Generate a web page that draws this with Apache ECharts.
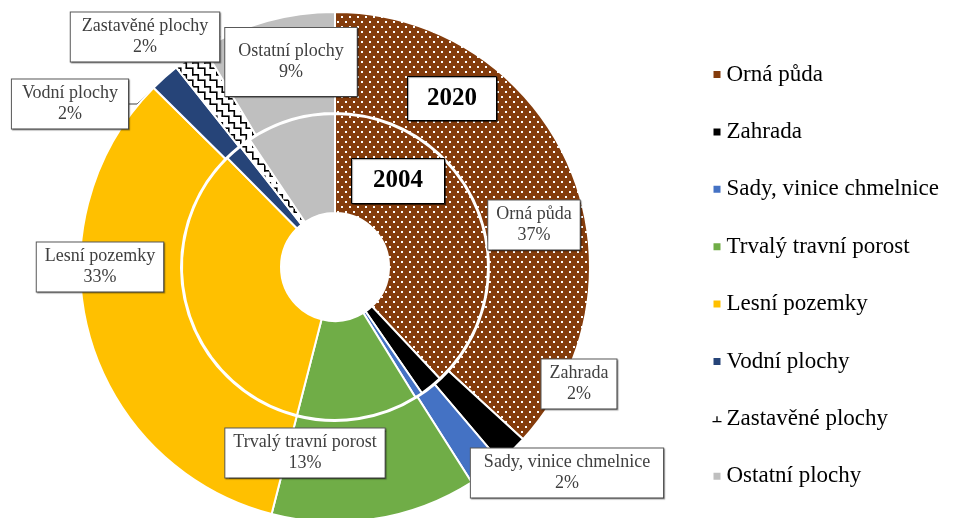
<!DOCTYPE html>
<html><head><meta charset="utf-8">
<script src="https://cdn.jsdelivr.net/npm/echarts@6/dist/echarts.min.js"></script>
<style>html,body{margin:0;padding:0;background:#fff}#c{width:954px;height:518px}</style>
</head><body><div id="c"></div>
<script>
// ---- data ----
const categories = ['Orná půda','Zahrada','Sady, vinice chmelnice','Trvalý travní porost','Lesní pozemky','Vodní plochy','Zastavěné plochy','Ostatní plochy'];
const values2004 = [38.0, 2.4, 0.8, 12.8, 33.6, 1.8, 1.2, 9.4];
const values2020 = [36.8, 2.0, 2.2, 13.0, 33.4, 1.9, 2.1, 8.6];
const ringNames = ['2004', '2020'];

// ---- styles / layout ----
function dotPattern() {
  const c = document.createElement('canvas'); c.width = 8; c.height = 10;
  const g = c.getContext('2d');
  g.fillStyle = '#843C0C'; g.fillRect(0,0,8,10);
  g.fillStyle = '#ffffff'; g.fillRect(1,1,2,2); g.fillRect(5,6,2,2);
  return {image: c, repeat: 'repeat'};
}
function brickPattern() {
  const c = document.createElement('canvas'); c.width = 12; c.height = 12;
  const g = c.getContext('2d');
  g.fillStyle = '#ffffff'; g.fillRect(0,0,12,12);
  g.fillStyle = '#000000';
  g.fillRect(0,2,7,1.6); g.fillRect(5.5,2,1.6,6.5); g.fillRect(5.5,7.4,6.5,1.6); g.fillRect(0,7.4,1.6,4.6); g.fillRect(0,0,1.6,3.6);
  return {image: c, repeat: 'repeat'};
}
const palette = [dotPattern(), '#000000', '#4472C4', '#70AD47', '#FFC000', '#264478', brickPattern(), '#BFBFBF'];
const legendColors = ['#843C0C', '#000000', '#4472C4', '#70AD47', '#FFC000', '#264478', '#000000', '#BFBFBF'];
const labelPos = [[534,225],[579,384],[567,473],[305,453],[100,267],[70,104],[145,37],[291,62]];
const labelPad = [null, null, [4,13,3,13], null, null, [4,10,3,10], [4,11,3,11], [12,13,14,13]];
const serif = '"Liberation Serif", "Times New Roman", serif';

function buildData(vals, withLabels) {
  return categories.map((n, i) => {
    const d = { name: n, value: vals[i], itemStyle: { color: palette[i] } };
    if (withLabels && labelPad[i]) d.label = { padding: labelPad[i] };
    return d;
  });
}

const chart = echarts.init(document.getElementById('c'), null, {renderer: 'canvas'});
chart.setOption({
  animation: false,
  backgroundColor: '#fff',
  title: [
    { text: ringNames[1], left: 407, top: 76, padding: [10, 20, 10, 20], backgroundColor: '#fff', borderColor: '#000', borderWidth: 1,
      shadowColor: 'rgba(0,0,0,0.4)', shadowOffsetX: 1, shadowOffsetY: 1, shadowBlur: 1,
      textStyle: { fontFamily: serif, fontSize: 25, fontWeight: 'bold', color: '#000' } },
    { text: ringNames[0], left: 351, top: 158, padding: [10, 22, 11, 22], backgroundColor: '#fff', borderColor: '#000', borderWidth: 1,
      shadowColor: 'rgba(0,0,0,0.4)', shadowOffsetX: 1, shadowOffsetY: 1, shadowBlur: 1,
      textStyle: { fontFamily: serif, fontSize: 25, fontWeight: 'bold', color: '#000' } }
  ],
  legend: {
    orient: 'vertical', left: 705, top: 58, itemWidth: 9, itemHeight: 9, itemGap: 34.4, icon: 'rect',
    selectedMode: false,
    textStyle: { fontFamily: serif, fontSize: 23, color: '#000', lineHeight: 23 },
    data: categories.map((n, i) => i === 6
      ? { name: n, icon: 'path://M0,8L10,8M5,8L5,2', itemStyle: { color: 'none', borderColor: '#000', borderWidth: 1.3 } }
      : { name: n, itemStyle: { color: legendColors[i] } })
  },
  series: [
    {
      name: ringNames[0], type: 'pie', center: [335, 267], radius: [54, 153],
      startAngle: 90, clockwise: true, silent: true,
      label: { show: false }, labelLine: { show: false },
      itemStyle: { borderColor: '#fff', borderWidth: 2 },
      data: buildData(values2004, false)
    },
    {
      name: ringNames[1], type: 'pie', center: [335, 267], radius: [154, 255],
      startAngle: 90, clockwise: true, silent: true, avoidLabelOverlap: false,
      itemStyle: { borderColor: '#fff', borderWidth: 2 },
      label: {
        show: true, position: 'outside',
        formatter: p => p.name + '\n' + Math.round(p.percent) + '%',
        fontFamily: serif, fontSize: 18, lineHeight: 21, color: '#404040', align: 'center',
        backgroundColor: '#fff', borderColor: '#595959', borderWidth: 1, padding: [4, 8, 3, 8],
        shadowColor: 'rgba(0,0,0,0.35)', shadowOffsetX: 1, shadowOffsetY: 1, shadowBlur: 1
      },
      labelLine: { show: true, length: 8, length2: 8, lineStyle: { color: '#404040', width: 1 } },
      labelLayout: params => {
        const p = labelPos[params.dataIndex];
        return { x: p[0], y: p[1], align: 'center', verticalAlign: 'middle' };
      },
      data: buildData(values2020, true)
    }
  ]
});
</script>
</body></html>
